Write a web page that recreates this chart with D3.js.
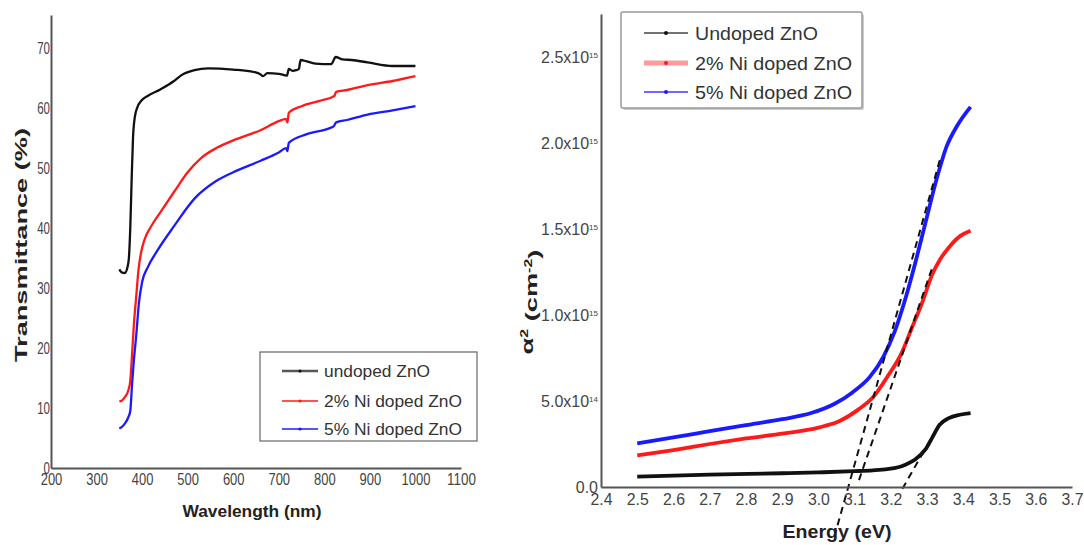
<!DOCTYPE html>
<html>
<head>
<meta charset="utf-8">
<script src="https://cdn.jsdelivr.net/npm/d3@7"></script>
<style>
  html, body { margin: 0; padding: 0; background: #fff; }
  svg { display: block; font-family: "Liberation Sans", Arial, sans-serif; }
</style>
</head>
<body>
<script>
// ---------- Left panel: Transmittance vs wavelength ----------
const wlTicks = [200, 300, 400, 500, 600, 700, 800, 900, 1000, 1100];
const transTicks = [0, 10, 20, 30, 40, 50, 60, 70];
const seriesNamesLeft = ["undoped ZnO", "2% Ni doped ZnO", "5% Ni doped ZnO"];

const transUndoped = [[350,33.1],[355,32.6],[362,32.5],[368,33.5],[371,35],[374,40],[377,48],[380,55],[384,58.5],[390,60.2],[398,61.2],[412,62],[440,63.1],[470,64.5],[485,65.4],[515,66.3],[545,66.6],[600,66.4],[645,66],[660,65.6],[665,65.3],[675,65.8],[700,65.7],[718,65.4],[722,66.5],[730,66.2],[738,66.3],[744,66.5],[748,68],[760,67.8],[780,67.4],[815,67.3],[825,68.5],[840,68.1],[860,68],[895,67.6],[950,67],[1000,67]];
const trans2Ni = [[350,11.1],[355,11.2],[362,11.8],[370,13],[374,14.5],[378,19],[382,24],[387,28.5],[392,33],[398,36],[405,38],[420,40.3],[440,42.6],[470,46],[500,49.3],[530,51.7],[565,53.4],[600,54.6],[660,56.3],[700,57.8],[716,58.2],[719,57.6],[722,59.2],[750,60.3],[790,61.2],[822,62],[826,62.7],[850,63],[895,63.8],[950,64.5],[1000,65.3]];
const trans5Ni = [[350,6.6],[355,6.8],[362,7.4],[370,8.5],[374,9.5],[378,14],[382,18],[387,22],[393,27.5],[400,31],[412,33.4],[434,36.3],[470,40.3],[515,44.9],[560,47.7],[600,49.3],[660,51.2],[700,52.6],[716,53.3],[719,52.8],[722,54.2],[760,55.6],[820,56.9],[826,57.6],[850,58],[895,58.9],[950,59.6],[1000,60.3]];

// ---------- Right panel: alpha^2 vs energy (values in units of 1e15 cm^-2) ----------
const energyTicks = [2.4, 2.5, 2.6, 2.7, 2.8, 2.9, 3.0, 3.1, 3.2, 3.3, 3.4, 3.5, 3.6, 3.7];
const alphaTicks = [0, 0.5, 1.0, 1.5, 2.0, 2.5];
const alphaTickMantissa = ["0.0", "5.0x10", "1.0x10", "1.5x10", "2.0x10", "2.5x10"];
const alphaTickExponent = ["", "14", "15", "15", "15", "15"];
const seriesNamesRight = ["Undoped ZnO", "2% Ni doped ZnO", "5% Ni doped ZnO"];

const alphaUndoped = [[2.5,0.06],[2.7,0.072],[2.9,0.08],[3.0,0.085],[3.1,0.092],[3.15,0.097],[3.19,0.104],[3.22,0.115],[3.24,0.13],[3.267,0.16],[3.296,0.22],[3.315,0.29],[3.334,0.36],[3.36,0.40],[3.39,0.42],[3.42,0.43]];
const alpha2Ni = [[2.5,0.184],[2.6,0.215],[2.7,0.25],[2.8,0.282],[2.9,0.31],[3.0,0.345],[3.06,0.385],[3.11,0.45],[3.15,0.52],[3.19,0.64],[3.23,0.78],[3.257,0.92],[3.286,1.07],[3.315,1.24],[3.335,1.32],[3.363,1.40],[3.392,1.46],[3.42,1.49]];
const alpha5Ni = [[2.5,0.254],[2.6,0.288],[2.7,0.325],[2.8,0.36],[2.9,0.394],[2.98,0.43],[3.045,0.484],[3.094,0.55],[3.142,0.64],[3.18,0.76],[3.21,0.9],[3.238,1.08],[3.267,1.3],[3.296,1.54],[3.325,1.78],[3.354,1.98],[3.383,2.1],[3.42,2.21]];
// Tauc-style extrapolation lines (dashed)
const tangent5Ni = [[3.044,-0.29],[3.335,1.9]];
const tangent2Ni = [[3.112,0.04],[3.315,1.28]];
const tangentUndoped = [[3.232,-0.01],[3.335,0.37]];

const colors = ["#111111", "#ff1a1a", "#1a1aff"];

const svg = d3.select("body").append("svg").attr("width", 1084).attr("height", 545);
svg.append("rect").attr("width", 1084).attr("height", 545).attr("fill", "#fff");

// ===== LEFT PANEL =====
const xL = d3.scaleLinear().domain([200, 1100]).range([51, 461]);
const yL = d3.scaleLinear().domain([0, 75.5]).range([468, 15]);
const gL = svg.append("g");

const lineL = d3.line().x(d => xL(d[0])).y(d => yL(d[1])).curve(d3.curveMonotoneX);
[transUndoped, trans2Ni, trans5Ni].forEach((s, i) => {
  gL.append("path").datum(s).attr("d", lineL).attr("fill", "none")
    .attr("stroke", colors[i]).attr("stroke-width", 2.3);
});

const axL_x = gL.append("g").attr("transform", "translate(0,468)")
  .call(d3.axisBottom(xL).tickValues(wlTicks).tickSize(0).tickPadding(5).tickFormat(d3.format("d")));
const axL_y = gL.append("g").attr("transform", "translate(51,0)")
  .call(d3.axisLeft(yL).tickValues(transTicks).tickSize(0).tickPadding(1).tickFormat(d3.format("d")));
[axL_x, axL_y].forEach(a => {
  a.select(".domain").attr("stroke", "#555").attr("stroke-width", 2);
  a.selectAll("text").attr("font-size", 17).attr("fill", "#444")
    .attr("font-family", "Liberation Sans, Arial, sans-serif")
    .attr("lengthAdjust", "spacingAndGlyphs");
});
axL_x.selectAll("text").attr("textLength", d => String(d).length * 7.2);
axL_y.selectAll("text").attr("textLength", d => String(d).length * 6.4);

gL.append("text").attr("x", 252).attr("y", 517).attr("text-anchor", "middle")
  .attr("font-size", 17).attr("font-weight", "bold").attr("fill", "#222")
  .attr("textLength", 139).attr("lengthAdjust", "spacingAndGlyphs")
  .text("Wavelength (nm)");
gL.append("text").attr("transform", "translate(27,245) rotate(-90)").attr("text-anchor", "middle")
  .attr("font-size", 16).attr("font-weight", "bold").attr("fill", "#222")
  .attr("textLength", 234).attr("lengthAdjust", "spacingAndGlyphs")
  .text("Transmittance (%)");

// left legend
const legL = gL.append("g");
legL.append("rect").attr("x", 260).attr("y", 352).attr("width", 217).attr("height", 89)
  .attr("fill", "#fff").attr("stroke", "#666").attr("stroke-width", 1.2);
const legLY = [371, 401, 429];
const legLW = [106, 138, 138];
seriesNamesLeft.forEach((n, i) => {
  legL.append("line").attr("x1", 282).attr("x2", 318).attr("y1", legLY[i]).attr("y2", legLY[i])
    .attr("stroke", colors[i]).attr("stroke-width", i === 0 ? 2.5 : 1.3).attr("opacity", i === 0 ? 0.7 : 1);
  legL.append("circle").attr("cx", 300).attr("cy", legLY[i]).attr("r", 1.6).attr("fill", colors[i]);
  legL.append("text").attr("x", 324).attr("y", legLY[i]).attr("dy", "0.35em")
    .attr("font-size", 17).attr("fill", "#333")
    .attr("textLength", legLW[i]).attr("lengthAdjust", "spacingAndGlyphs").text(n);
});

// ===== RIGHT PANEL =====
const xR = d3.scaleLinear().domain([2.4, 3.7]).range([601, 1072]);
const yR = d3.scaleLinear().domain([0, 2.75]).range([487, 14]);
const gR = svg.append("g");

const lineR = d3.line().x(d => xR(d[0])).y(d => yR(d[1])).curve(d3.curveMonotoneX);
[alphaUndoped, alpha2Ni, alpha5Ni].forEach((s, i) => {
  gR.append("path").datum(s).attr("d", lineR).attr("fill", "none")
    .attr("stroke", colors[i]).attr("stroke-width", 3.8);
});
const lineT = d3.line().x(d => xR(d[0])).y(d => yR(d[1]));
[tangent5Ni, tangent2Ni, tangentUndoped].forEach(s => {
  gR.append("path").datum(s).attr("d", lineT).attr("fill", "none")
    .attr("stroke", "#111").attr("stroke-width", 2).attr("stroke-dasharray", "7,5");
});

const axR_x = gR.append("g").attr("transform", "translate(0,487)")
  .call(d3.axisBottom(xR).tickValues(energyTicks).tickSize(0).tickPadding(6).tickFormat(d3.format(".1f")));
const axR_y = gR.append("g").attr("transform", "translate(601,0)")
  .call(d3.axisLeft(yR).tickValues(alphaTicks).tickSize(0).tickPadding(3));
[axR_x, axR_y].forEach(a => {
  a.select(".domain").attr("stroke", "#555").attr("stroke-width", 2);
  a.selectAll("text").attr("fill", "#444")
    .attr("font-family", "Liberation Sans, Arial, sans-serif");
});
axR_x.selectAll("text").attr("font-size", 17).attr("textLength", 22).attr("lengthAdjust", "spacingAndGlyphs");
axR_y.selectAll("text").attr("font-size", 16).each(function(d, i) {
  const t = d3.select(this);
  t.text(null);
  t.append("tspan").text(alphaTickMantissa[i]);
  if (alphaTickExponent[i]) {
    t.append("tspan").attr("dy", "-0.55em").attr("font-size", 8).text(alphaTickExponent[i]);
  }
});

gR.append("text").attr("x", 837).attr("y", 538).attr("text-anchor", "middle")
  .attr("font-size", 19).attr("font-weight", "bold").attr("fill", "#222")
  .attr("textLength", 109).attr("lengthAdjust", "spacingAndGlyphs")
  .text("Energy (eV)");

const yTitle = gR.append("text").attr("transform", "translate(533,302) rotate(-90) scale(1.6,1)")
  .attr("text-anchor", "middle").attr("font-size", 17).attr("font-weight", "bold").attr("fill", "#222");
yTitle.append("tspan").text("α");
yTitle.append("tspan").attr("dy", "-0.5em").attr("font-size", 10).text("2");
yTitle.append("tspan").attr("dy", "0.5em").text(" (cm");
yTitle.append("tspan").attr("dy", "-0.5em").attr("font-size", 10).text("-2");
yTitle.append("tspan").attr("dy", "0.5em").text(")");

// right legend
const legR = gR.append("g");
legR.append("rect").attr("x", 623).attr("y", 14).attr("width", 241).attr("height", 96)
  .attr("fill", "#ccc").attr("rx", 2);
legR.append("rect").attr("x", 621).attr("y", 12).attr("width", 241).attr("height", 96)
  .attr("fill", "#fff").attr("stroke", "#999").attr("stroke-width", 1.5).attr("rx", 2);
const legRY = [33, 63, 92];
const legRW = [123, 157, 157];
const legRLine = ["#444", "#ff9a9a", "#3a3aff"];
const legRLineW = [1.5, 5, 1.5];
seriesNamesRight.forEach((n, i) => {
  legR.append("line").attr("x1", 644).attr("x2", 688).attr("y1", legRY[i]).attr("y2", legRY[i])
    .attr("stroke", legRLine[i]).attr("stroke-width", legRLineW[i]);
  legR.append("circle").attr("cx", 666).attr("cy", legRY[i]).attr("r", 2).attr("fill", colors[i]);
  legR.append("text").attr("x", 695).attr("y", legRY[i]).attr("dy", "0.35em")
    .attr("font-size", 19).attr("fill", "#333")
    .attr("textLength", legRW[i]).attr("lengthAdjust", "spacingAndGlyphs").text(n);
});
</script>
</body>
</html>
